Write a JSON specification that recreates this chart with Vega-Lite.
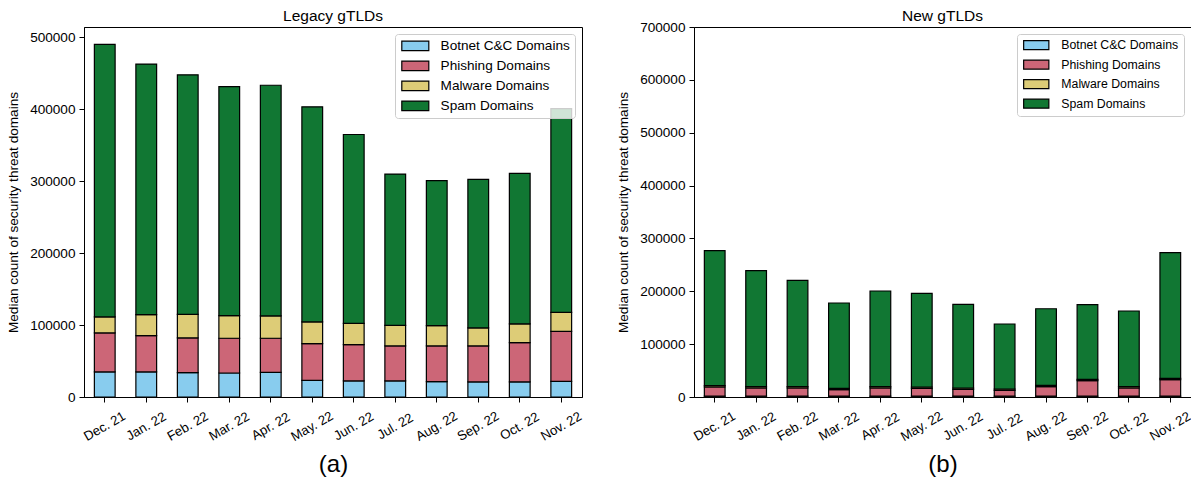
{
  "$schema": "https://vega.github.io/schema/vega-lite/v6.json",
  "background": "white",
  "padding": {"left": 6, "top": 8, "right": 3, "bottom": 0},
  "spacing": 32,
  "config": {
    "font": "Liberation Sans",
    "view": {"stroke": "black", "strokeWidth": 1},
    "axis": {
      "domainColor": "black",
      "tickColor": "black",
      "labelColor": "black",
      "titleColor": "black",
      "labelFontSize": 13.6,
      "titleFontSize": 13.6,
      "titleFontWeight": "normal",
      "grid": false,
      "tickSize": 5,
      "labelPadding": 4
    },
    "title": {"fontSize": 15.5, "fontWeight": "normal", "color": "black", "anchor": "middle", "offset": 3, "frame": "group"},
    "legend": {
      "orient": "top-right",
      "offset": 7,
      "padding": 5,
      "fillColor": "rgba(255,255,255,0.8)",
      "strokeColor": "#cccccc",
      "cornerRadius": 3,
      "labelColor": "black",
      "symbolStrokeColor": "black",
      "symbolStrokeWidth": 1.2,
      "symbolOpacity": 1
    }
  },
  "datasets": {
    "legacy": [
      {"month": "Dec. 21", "series": "Botnet C&C Domains", "k": 1, "value": 34800},
      {"month": "Dec. 21", "series": "Phishing Domains", "k": 2, "value": 54300},
      {"month": "Dec. 21", "series": "Malware Domains", "k": 3, "value": 22200},
      {"month": "Dec. 21", "series": "Spam Domains", "k": 4, "value": 379000},
      {"month": "Jan. 22", "series": "Botnet C&C Domains", "k": 1, "value": 34800},
      {"month": "Jan. 22", "series": "Phishing Domains", "k": 2, "value": 50500},
      {"month": "Jan. 22", "series": "Malware Domains", "k": 3, "value": 29200},
      {"month": "Jan. 22", "series": "Spam Domains", "k": 4, "value": 348500},
      {"month": "Feb. 22", "series": "Botnet C&C Domains", "k": 1, "value": 33900},
      {"month": "Feb. 22", "series": "Phishing Domains", "k": 2, "value": 48300},
      {"month": "Feb. 22", "series": "Malware Domains", "k": 3, "value": 32800},
      {"month": "Feb. 22", "series": "Spam Domains", "k": 4, "value": 333000},
      {"month": "Mar. 22", "series": "Botnet C&C Domains", "k": 1, "value": 33400},
      {"month": "Mar. 22", "series": "Phishing Domains", "k": 2, "value": 48300},
      {"month": "Mar. 22", "series": "Malware Domains", "k": 3, "value": 31400},
      {"month": "Mar. 22", "series": "Spam Domains", "k": 4, "value": 318400},
      {"month": "Apr. 22", "series": "Botnet C&C Domains", "k": 1, "value": 34300},
      {"month": "Apr. 22", "series": "Phishing Domains", "k": 2, "value": 47400},
      {"month": "Apr. 22", "series": "Malware Domains", "k": 3, "value": 31000},
      {"month": "Apr. 22", "series": "Spam Domains", "k": 4, "value": 320800},
      {"month": "May. 22", "series": "Botnet C&C Domains", "k": 1, "value": 23100},
      {"month": "May. 22", "series": "Phishing Domains", "k": 2, "value": 51100},
      {"month": "May. 22", "series": "Malware Domains", "k": 3, "value": 30200},
      {"month": "May. 22", "series": "Spam Domains", "k": 4, "value": 299100},
      {"month": "Jun. 22", "series": "Botnet C&C Domains", "k": 1, "value": 22300},
      {"month": "Jun. 22", "series": "Phishing Domains", "k": 2, "value": 50500},
      {"month": "Jun. 22", "series": "Malware Domains", "k": 3, "value": 29700},
      {"month": "Jun. 22", "series": "Spam Domains", "k": 4, "value": 262500},
      {"month": "Jul. 22", "series": "Botnet C&C Domains", "k": 1, "value": 22300},
      {"month": "Jul. 22", "series": "Phishing Domains", "k": 2, "value": 48700},
      {"month": "Jul. 22", "series": "Malware Domains", "k": 3, "value": 28700},
      {"month": "Jul. 22", "series": "Spam Domains", "k": 4, "value": 210300},
      {"month": "Aug. 22", "series": "Botnet C&C Domains", "k": 1, "value": 21300},
      {"month": "Aug. 22", "series": "Phishing Domains", "k": 2, "value": 49700},
      {"month": "Aug. 22", "series": "Malware Domains", "k": 3, "value": 28300},
      {"month": "Aug. 22", "series": "Spam Domains", "k": 4, "value": 201700},
      {"month": "Sep. 22", "series": "Botnet C&C Domains", "k": 1, "value": 20900},
      {"month": "Sep. 22", "series": "Phishing Domains", "k": 2, "value": 50100},
      {"month": "Sep. 22", "series": "Malware Domains", "k": 3, "value": 25000},
      {"month": "Sep. 22", "series": "Spam Domains", "k": 4, "value": 206500},
      {"month": "Oct. 22", "series": "Botnet C&C Domains", "k": 1, "value": 20900},
      {"month": "Oct. 22", "series": "Phishing Domains", "k": 2, "value": 54700},
      {"month": "Oct. 22", "series": "Malware Domains", "k": 3, "value": 26200},
      {"month": "Oct. 22", "series": "Spam Domains", "k": 4, "value": 209200},
      {"month": "Nov. 22", "series": "Botnet C&C Domains", "k": 1, "value": 21700},
      {"month": "Nov. 22", "series": "Phishing Domains", "k": 2, "value": 69500},
      {"month": "Nov. 22", "series": "Malware Domains", "k": 3, "value": 26500},
      {"month": "Nov. 22", "series": "Spam Domains", "k": 4, "value": 283300}
    ],
    "newg": [
      {"month": "Dec. 21", "series": "Botnet C&C Domains", "k": 1, "value": 1500},
      {"month": "Dec. 21", "series": "Phishing Domains", "k": 2, "value": 17400},
      {"month": "Dec. 21", "series": "Malware Domains", "k": 3, "value": 2500},
      {"month": "Dec. 21", "series": "Spam Domains", "k": 4, "value": 255400},
      {"month": "Jan. 22", "series": "Botnet C&C Domains", "k": 1, "value": 1500},
      {"month": "Jan. 22", "series": "Phishing Domains", "k": 2, "value": 15500},
      {"month": "Jan. 22", "series": "Malware Domains", "k": 3, "value": 2500},
      {"month": "Jan. 22", "series": "Spam Domains", "k": 4, "value": 219500},
      {"month": "Feb. 22", "series": "Botnet C&C Domains", "k": 1, "value": 1500},
      {"month": "Feb. 22", "series": "Phishing Domains", "k": 2, "value": 15500},
      {"month": "Feb. 22", "series": "Malware Domains", "k": 3, "value": 2500},
      {"month": "Feb. 22", "series": "Spam Domains", "k": 4, "value": 201100},
      {"month": "Mar. 22", "series": "Botnet C&C Domains", "k": 1, "value": 1500},
      {"month": "Mar. 22", "series": "Phishing Domains", "k": 2, "value": 12400},
      {"month": "Mar. 22", "series": "Malware Domains", "k": 3, "value": 2500},
      {"month": "Mar. 22", "series": "Spam Domains", "k": 4, "value": 161400},
      {"month": "Apr. 22", "series": "Botnet C&C Domains", "k": 1, "value": 1500},
      {"month": "Apr. 22", "series": "Phishing Domains", "k": 2, "value": 15500},
      {"month": "Apr. 22", "series": "Malware Domains", "k": 3, "value": 2500},
      {"month": "Apr. 22", "series": "Spam Domains", "k": 4, "value": 181000},
      {"month": "May. 22", "series": "Botnet C&C Domains", "k": 1, "value": 1500},
      {"month": "May. 22", "series": "Phishing Domains", "k": 2, "value": 14900},
      {"month": "May. 22", "series": "Malware Domains", "k": 3, "value": 2500},
      {"month": "May. 22", "series": "Spam Domains", "k": 4, "value": 177100},
      {"month": "Jun. 22", "series": "Botnet C&C Domains", "k": 1, "value": 1500},
      {"month": "Jun. 22", "series": "Phishing Domains", "k": 2, "value": 13000},
      {"month": "Jun. 22", "series": "Malware Domains", "k": 3, "value": 2500},
      {"month": "Jun. 22", "series": "Spam Domains", "k": 4, "value": 158200},
      {"month": "Jul. 22", "series": "Botnet C&C Domains", "k": 1, "value": 1500},
      {"month": "Jul. 22", "series": "Phishing Domains", "k": 2, "value": 11100},
      {"month": "Jul. 22", "series": "Malware Domains", "k": 3, "value": 2500},
      {"month": "Jul. 22", "series": "Spam Domains", "k": 4, "value": 123000},
      {"month": "Aug. 22", "series": "Botnet C&C Domains", "k": 1, "value": 1500},
      {"month": "Aug. 22", "series": "Phishing Domains", "k": 2, "value": 18000},
      {"month": "Aug. 22", "series": "Malware Domains", "k": 3, "value": 2500},
      {"month": "Aug. 22", "series": "Spam Domains", "k": 4, "value": 145000},
      {"month": "Sep. 22", "series": "Botnet C&C Domains", "k": 1, "value": 1500},
      {"month": "Sep. 22", "series": "Phishing Domains", "k": 2, "value": 29400},
      {"month": "Sep. 22", "series": "Malware Domains", "k": 3, "value": 2500},
      {"month": "Sep. 22", "series": "Spam Domains", "k": 4, "value": 141200},
      {"month": "Oct. 22", "series": "Botnet C&C Domains", "k": 1, "value": 1500},
      {"month": "Oct. 22", "series": "Phishing Domains", "k": 2, "value": 15500},
      {"month": "Oct. 22", "series": "Malware Domains", "k": 3, "value": 2500},
      {"month": "Oct. 22", "series": "Spam Domains", "k": 4, "value": 143200},
      {"month": "Nov. 22", "series": "Botnet C&C Domains", "k": 1, "value": 1500},
      {"month": "Nov. 22", "series": "Phishing Domains", "k": 2, "value": 31300},
      {"month": "Nov. 22", "series": "Malware Domains", "k": 3, "value": 2500},
      {"month": "Nov. 22", "series": "Spam Domains", "k": 4, "value": 237700}
    ]
  },
  "resolve": {"legend": {"color": "independent"}},
  "hconcat": [
    {
      "width": 498,
      "height": 370,
      "title": {"text": "Legacy gTLDs"},
      "data": {"name": "legacy"},
      "mark": {"type": "bar", "stroke": "black", "strokeWidth": 1.2},
      "encoding": {
        "x": {
          "field": "month", "type": "nominal",
          "sort": ["Dec. 21","Jan. 22","Feb. 22","Mar. 22","Apr. 22","May. 22","Jun. 22","Jul. 22","Aug. 22","Sep. 22","Oct. 22","Nov. 22"],
          "scale": {"paddingInner": 0.5, "paddingOuter": 0.25},
          "axis": {"labelAngle": -30, "labelAlign": "center", "labelBaseline": "middle", "labelFontSize": 13.2, "labelPadding": 24, "title": "(a)", "titleFontSize": 24, "titlePadding": 10}
        },
        "y": {
          "field": "value", "type": "quantitative", "stack": "zero",
          "scale": {"domain": [0, 514500], "nice": false, "zero": true},
          "axis": {"title": "Median count of security threat domains", "values": [0,100000,200000,300000,400000,500000], "format": "d", "titlePadding": 9}
        },
        "color": {
          "field": "series", "type": "nominal",
          "scale": {"domain": ["Botnet C&C Domains","Phishing Domains","Malware Domains","Spam Domains"], "range": ["#88CCEE","#CC6677","#DDCC77","#117733"]},
          "legend": {"title": null, "labelFontSize": 13.6, "symbolType": "M-1,-0.95H4.4V0.95H-1Z", "symbolSize": 100, "rowPadding": 5, "labelOffset": 27}
        },
        "order": {"field": "k", "type": "quantitative", "sort": "ascending"}
      }
    },
    {
      "width": 497,
      "height": 370,
      "title": {"text": "New gTLDs", "offset": -4},
      "data": {"name": "newg"},
      "mark": {"type": "bar", "stroke": "black", "strokeWidth": 1.2},
      "encoding": {
        "x": {
          "field": "month", "type": "nominal",
          "sort": ["Dec. 21","Jan. 22","Feb. 22","Mar. 22","Apr. 22","May. 22","Jun. 22","Jul. 22","Aug. 22","Sep. 22","Oct. 22","Nov. 22"],
          "scale": {"paddingInner": 0.5, "paddingOuter": 0.25},
          "axis": {"labelAngle": -30, "labelAlign": "center", "labelBaseline": "middle", "labelFontSize": 13.2, "labelPadding": 24, "title": "(b)", "titleFontSize": 24, "titlePadding": 10}
        },
        "y": {
          "field": "value", "type": "quantitative", "stack": "zero",
          "scale": {"domain": [0, 700000], "nice": false, "zero": true},
          "axis": {"title": "Median count of security threat domains", "values": [0,100000,200000,300000,400000,500000,600000,700000], "format": "d", "titlePadding": 9}
        },
        "color": {
          "field": "series", "type": "nominal",
          "scale": {"domain": ["Botnet C&C Domains","Phishing Domains","Malware Domains","Spam Domains"], "range": ["#88CCEE","#CC6677","#DDCC77","#117733"]},
          "legend": {"title": null, "labelFontSize": 12.3, "symbolType": "M-1,-1H4.6V1H-1Z", "symbolSize": 81, "rowPadding": 4.5, "labelOffset": 27}
        },
        "order": {"field": "k", "type": "quantitative", "sort": "ascending"}
      }
    }
  ]
}
